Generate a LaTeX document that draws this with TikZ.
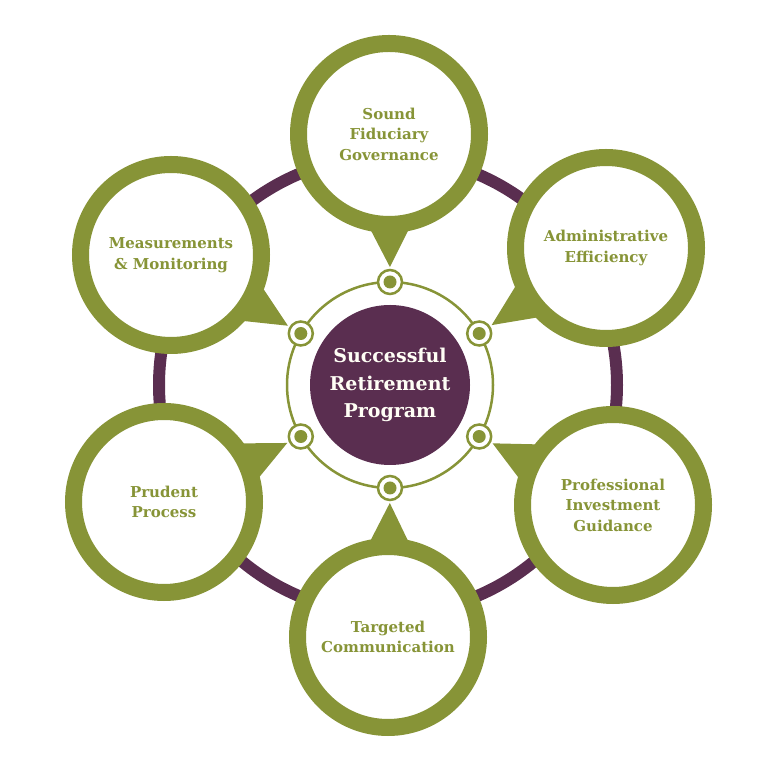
\documentclass[tikz,border=0pt]{standalone}
\usepackage{fontspec}
\setmainfont{DejaVu Serif}
\usetikzlibrary{calc}
\definecolor{olive}{HTML}{879437}
\definecolor{plum}{HTML}{5A2E50}
\tikzset{
  outerring/.style={draw=olive, line width=17pt, fill=white},
  lbl/.style={text=olive, font=\bfseries\fontsize{15}{20.5}\selectfont, align=center},
  hub/.style={draw=olive, line width=2.5pt, fill=white},
}
\begin{document}
\begin{tikzpicture}[x=1pt,y=1pt]
\useasboundingbox (0,0) rectangle (768,768);
\coordinate (M) at (390,383);
% purple ring
\draw[plum, line width=12pt] (388,383) circle (229);
% small hubs positions
\foreach \n/\a in {t/90, ur/30, lr/-30, b/-90, ll/-150, ul/150}
  \coordinate (s\n) at ($(M)+(\a:103)$);
% outer circle centres
\coordinate (ct) at (389,634);
\coordinate (cur) at (606,520);
\coordinate (clr) at (613,263);
\coordinate (cb) at (388,131);
\coordinate (cul) at (171,513);
\coordinate (cll) at (164,266);
% outer circles with pointers
\foreach \n in {t, ur, lr, b, ul, ll} {
  \draw[outerring] (c\n) circle (90.5);
  \fill[olive] ($(s\n)!15pt!(c\n)$) -- ($(c\n)!95pt!12.5:(s\n)$) -- ($(c\n)!95pt!-12.5:(s\n)$) -- cycle;
}
% labels
\node[lbl] (lt) at (ct) {Sound\\Fiduciary\\Governance};
\node[lbl] (lur) at (cur) {Administrative\\Efficiency};
\node[lbl] (llr) at (clr) {Professional\\Investment\\Guidance};
\node[lbl] (lb) at (cb) {Targeted\\Communication};
\node[lbl] (lul) at (cul) {Measurements\\\& Monitoring};
\node[lbl] (lll) at (cll) {Prudent\\Process};
% centre
\draw[olive, line width=2.5pt] (M) circle (103);
\fill[plum] (M) circle (80);
\node[text=white!96!yellow, font=\bfseries\fontsize{19}{27.5}\selectfont, align=center] (centre) at (M) {Successful\\Retirement\\Program};
\foreach \n in {t, ur, lr, b, ll, ul} {
  \draw[hub] (s\n) circle (12);
  \fill[olive] (s\n) circle (6.5);
}
\end{tikzpicture}
\end{document}
